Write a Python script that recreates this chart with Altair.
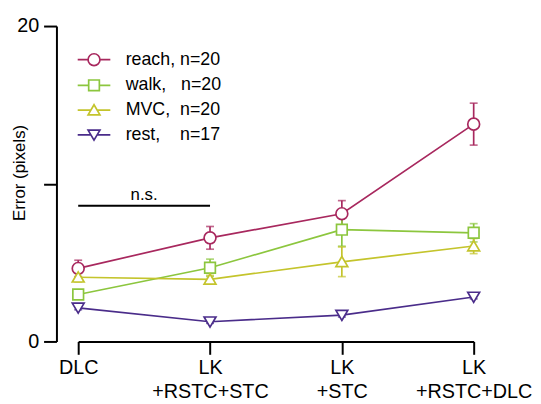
import altair as alt
import pandas as pd

# ---- data ----
categories = ["DLC", "LK\n+RSTC+STC", "LK\n+STC", "LK\n+RSTC+DLC"]
series = ["reach", "walk", "MVC", "rest"]
legend_labels = ["reach,\u00a0n=20", "walk,\u00a0\u00a0\u00a0n=20",
                 "MVC,\u00a0\u00a0n=20", "rest,\u00a0\u00a0\u00a0\u00a0n=17"]
colors = ["#a8285e", "#8cc63e", "#c4c42c", "#4a2c8a"]

reach_mean = [4.63, 6.57, 8.10, 13.78]
reach_sem = [0.52, 0.72, 0.83, 1.33]
walk_mean = [2.98, 4.67, 7.09, 6.89]
walk_sem = [0.20, 0.55, 1.05, 0.58]
mvc_mean = [4.07, 3.94, 5.05, 6.05]
mvc_sem = [0.30, 0.25, 0.94, 0.48]
rest_mean = [2.13, 1.25, 1.67, 2.82]
rest_sem = [0.12, 0.10, 0.12, 0.12]

y_ticks = [0, 10, 20]
ns_span = [0, 1]
ns_level = 8.6
ns_text_level = 9.0
ns_text = "n.s."

# ---- marker shapes (unit-box SVG paths) ----
marker_paths = [
    "M1,0A1,1,0,1,1,-1,0A1,1,0,1,1,1,0Z",
    "M-0.9,-0.9L0.9,-0.9L0.9,0.9L-0.9,0.9Z",
    "M0,-0.9L1,0.8L-1,0.8Z",
    "M0,0.9L1,-0.8L-1,-0.8Z",
]
legend_paths = [
    "M-2.75,0L-1,0M1,0L2.75,0M1,0A1,1,0,1,1,-1,0A1,1,0,1,1,1,0Z",
    "M-2.75,0L-0.9,0M0.9,0L2.75,0M-0.9,-0.9L0.9,-0.9L0.9,0.9L-0.9,0.9Z",
    "M-2.75,0L-0.53,0M0.53,0L2.75,0M0,-0.9L1,0.8L-1,0.8Z",
    "M-2.75,0L-0.53,0M0.53,0L2.75,0M0,0.9L1,-0.8L-1,-0.8Z",
]

means = [reach_mean, walk_mean, mvc_mean, rest_mean]
sems = [reach_sem, walk_sem, mvc_sem, rest_sem]
rows = []
for s, m, e in zip(series, means, sems):
    for j, (mv, ev) in enumerate(zip(m, e)):
        rows.append({"series": s, "pos": j, "mean": mv, "lo": mv - ev, "hi": mv + ev})
df = pd.DataFrame(rows)

ns_df = pd.DataFrame({"x": [ns_span[0]], "x2": [ns_span[1]], "y": [ns_level],
                      "xm": [(ns_span[0] + ns_span[1]) / 2], "yt": [ns_text_level],
                      "t": [ns_text]})

FONT = "Liberation Sans"
SW = 1.7

cat_js = "[" + ",".join("'" + c.replace("\n", "\\n") + "'" for c in categories) + "]"
x_label_expr = "split(" + cat_js + "[datum.value], '\\n')"

lab_js = "{" + ",".join("'" + s + "':'" + l + "'" for s, l in zip(series, legend_labels)) + "}"
legend_label_expr = lab_js + "[datum.label]"

x_enc = alt.X("pos:Q",
              scale=alt.Scale(domain=[0, 3], nice=False, zero=False),
              axis=alt.Axis(values=[0, 1, 2, 3], labelExpr=x_label_expr, title=None,
                            grid=False, domainColor="black", domainWidth=2,
                            tickColor="black", tickWidth=2, tickSize=13,
                            labelFontSize=20, labelColor="black", labelFont=FONT,
                            labelPadding=3, labelLineHeight=25, labelFlush=False))
y_axis = alt.Axis(values=y_ticks, labelExpr="datum.value == 10 ? '' : datum.label",
                  title="Error (pixels)", titleFontSize=17, titleFontWeight="normal",
                  titleFont=FONT, titleColor="black", titleX=-37, titleY=148,
                  titleAngle=-90, titleAlign="center", titleBaseline="middle",
                  grid=False, offset=22, domainColor="black", domainWidth=2,
                  tickColor="black", tickWidth=2, tickSize=13,
                  labelFontSize=20, labelColor="black", labelFont=FONT, labelPadding=5)
y_scale = alt.Scale(domain=[0, 20], nice=False)

color_scale = alt.Scale(domain=series, range=colors)

legend = alt.Legend(title=None, orient="none", legendX=7, legendY=25, padding=0,
                    symbolSize=144, symbolStrokeWidth=SW, symbolFillColor="white",
                    symbolOpacity=1, labelFontSize=18,
                    labelFont=FONT, labelColor="black", labelOffset=23,
                    rowPadding=7, labelExpr=legend_label_expr)

base = alt.Chart(df)
col_nl = alt.Color("series:N", scale=color_scale, legend=None)

err = base.mark_rule(strokeWidth=SW).encode(
    x=x_enc, y=alt.Y("lo:Q", scale=y_scale, axis=y_axis), y2="hi:Q", color=col_nl)
cap_lo = base.mark_tick(size=8, thickness=SW, orient="horizontal").encode(
    x="pos:Q", y="lo:Q", color=col_nl)
cap_hi = base.mark_tick(size=8, thickness=SW, orient="horizontal").encode(
    x="pos:Q", y="hi:Q", color=col_nl)
line = base.mark_line(strokeWidth=SW).encode(
    x="pos:Q", y="mean:Q", color=col_nl)
pts = base.mark_point(filled=False, fill="white", fillOpacity=1, opacity=1,
                      size=144, strokeWidth=SW).encode(
    x="pos:Q", y="mean:Q", color=col_nl,
    shape=alt.Shape("series:N", scale=alt.Scale(domain=series, range=marker_paths),
                    legend=None))
# legend-only layer (no rows drawn): symbols with line stubs
leg = base.transform_filter("false").mark_point(
    filled=False, fill="white", size=144, strokeWidth=SW).encode(
    x="pos:Q", y="mean:Q",
    color=alt.Color("series:N", scale=color_scale, legend=legend),
    shape=alt.Shape("series:N", scale=alt.Scale(domain=series, range=legend_paths),
                    legend=legend))

ns_rule = alt.Chart(ns_df).mark_rule(color="black", strokeWidth=2).encode(
    x="x:Q", x2="x2:Q", y="y:Q")
ns_txt = alt.Chart(ns_df).mark_text(fontSize=17, font=FONT, color="black",
                                    baseline="alphabetic").encode(
    x="xm:Q", y="yt:Q", text="t:N")

chart = alt.layer(err, cap_lo, cap_hi, line, pts, leg, ns_rule, ns_txt).resolve_scale(
    color="independent", shape="independent"
).properties(
    width=400, height=319,
    padding={"left": 71, "top": 16, "right": 60, "bottom": 60},
    autosize=alt.AutoSizeParams(type="none"),
).configure(font=FONT).configure_view(strokeWidth=0, stroke="transparent")

chart.save("out.html", embed_options={"renderer": "svg", "actions": False})
